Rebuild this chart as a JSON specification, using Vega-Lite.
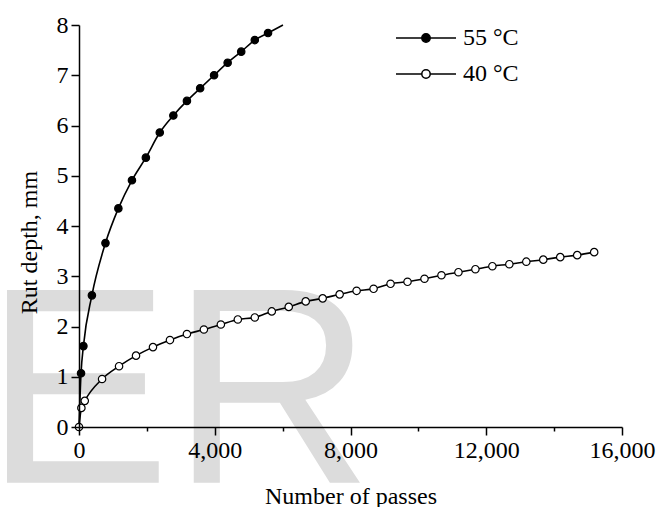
{
  "$schema": "https://vega.github.io/schema/vega-lite/v6.json",
  "width": 543,
  "height": 402,
  "autosize": {"type": "none"},
  "padding": {"left": 79, "top": 25, "right": 38, "bottom": 80},
  "background": "white",
  "config": {
    "view": {"stroke": null},
    "font": "Liberation Serif"
  },
  "datasets": {
    "rut": [
      {"temp": "55 °C", "passes": 0, "rut": 0},
      {"temp": "55 °C", "passes": 60, "rut": 1.07},
      {"temp": "55 °C", "passes": 130, "rut": 1.61},
      {"temp": "55 °C", "passes": 380, "rut": 2.62},
      {"temp": "55 °C", "passes": 780, "rut": 3.66},
      {"temp": "55 °C", "passes": 1160, "rut": 4.35},
      {"temp": "55 °C", "passes": 1560, "rut": 4.91},
      {"temp": "55 °C", "passes": 1970, "rut": 5.36},
      {"temp": "55 °C", "passes": 2380, "rut": 5.86},
      {"temp": "55 °C", "passes": 2780, "rut": 6.2},
      {"temp": "55 °C", "passes": 3180, "rut": 6.49},
      {"temp": "55 °C", "passes": 3570, "rut": 6.74},
      {"temp": "55 °C", "passes": 3980, "rut": 7.0},
      {"temp": "55 °C", "passes": 4380, "rut": 7.25},
      {"temp": "55 °C", "passes": 4780, "rut": 7.47},
      {"temp": "55 °C", "passes": 5180, "rut": 7.7},
      {"temp": "55 °C", "passes": 5570, "rut": 7.84},
      {"temp": "55 °C", "passes": 6010, "rut": 8.0},
      {"temp": "40 °C", "passes": 0, "rut": 0},
      {"temp": "40 °C", "passes": 70, "rut": 0.38},
      {"temp": "40 °C", "passes": 170, "rut": 0.52},
      {"temp": "40 °C", "passes": 680, "rut": 0.955},
      {"temp": "40 °C", "passes": 1180, "rut": 1.21},
      {"temp": "40 °C", "passes": 1680, "rut": 1.42},
      {"temp": "40 °C", "passes": 2180, "rut": 1.59},
      {"temp": "40 °C", "passes": 2680, "rut": 1.73},
      {"temp": "40 °C", "passes": 3180, "rut": 1.85},
      {"temp": "40 °C", "passes": 3680, "rut": 1.94},
      {"temp": "40 °C", "passes": 4180, "rut": 2.04},
      {"temp": "40 °C", "passes": 4680, "rut": 2.14},
      {"temp": "40 °C", "passes": 5180, "rut": 2.18},
      {"temp": "40 °C", "passes": 5680, "rut": 2.3},
      {"temp": "40 °C", "passes": 6180, "rut": 2.39},
      {"temp": "40 °C", "passes": 6680, "rut": 2.5},
      {"temp": "40 °C", "passes": 7180, "rut": 2.56},
      {"temp": "40 °C", "passes": 7680, "rut": 2.64},
      {"temp": "40 °C", "passes": 8180, "rut": 2.71},
      {"temp": "40 °C", "passes": 8680, "rut": 2.75},
      {"temp": "40 °C", "passes": 9180, "rut": 2.85},
      {"temp": "40 °C", "passes": 9680, "rut": 2.89},
      {"temp": "40 °C", "passes": 10180, "rut": 2.95},
      {"temp": "40 °C", "passes": 10680, "rut": 3.02},
      {"temp": "40 °C", "passes": 11180, "rut": 3.08},
      {"temp": "40 °C", "passes": 11680, "rut": 3.14},
      {"temp": "40 °C", "passes": 12180, "rut": 3.2},
      {"temp": "40 °C", "passes": 12680, "rut": 3.24},
      {"temp": "40 °C", "passes": 13180, "rut": 3.29},
      {"temp": "40 °C", "passes": 13680, "rut": 3.33},
      {"temp": "40 °C", "passes": 14180, "rut": 3.38},
      {"temp": "40 °C", "passes": 14680, "rut": 3.42},
      {"temp": "40 °C", "passes": 15180, "rut": 3.48}
    ],
    "watermark": [
      {"wm": "ER", "passes": -2799, "rut": -1.108}
    ]
  },
  "layer": [
    {
      "data": {"name": "watermark"},
      "mark": {
        "type": "text",
        "font": "Liberation Sans",
        "fontSize": 280,
        "align": "left",
        "baseline": "alphabetic",
        "fill": "#dcdcdc",
        "clip": false
      },
      "encoding": {
        "x": {"field": "passes", "type": "quantitative"},
        "y": {"field": "rut", "type": "quantitative"},
        "text": {"field": "wm", "type": "nominal"}
      }
    },
    {
      "data": {"name": "rut"},
      "mark": {"type": "line", "interpolate": "monotone", "color": "black", "strokeWidth": 1.6},
      "encoding": {
        "x": {"field": "passes", "type": "quantitative"},
        "y": {"field": "rut", "type": "quantitative"},
        "detail": {"field": "temp"}
      }
    },
    {
      "data": {"name": "rut"},
      "transform": [{"filter": "datum.temp == '40 °C' || (datum.passes > 0 && datum.passes < 5900)"}],
      "mark": {"type": "point", "shape": "circle", "size": 55, "stroke": "black", "strokeWidth": 1.2, "opacity": 1, "filled": true},
      "encoding": {
        "x": {
          "field": "passes",
          "type": "quantitative",
          "scale": {"domain": [0, 16000], "nice": false, "zero": false},
          "axis": {
            "title": "Number of passes",
            "values": [0, 2000, 4000, 6000, 8000, 10000, 12000, 14000, 16000],
            "labelExpr": "datum.value % 4000 === 0 ? format(datum.value, ',') : ''",
            "tickSize": {"condition": {"test": "datum.value % 4000 === 0", "value": 8}, "value": 4},
            "grid": false,
            "domainColor": "black",
            "domainWidth": 1.5,
            "tickColor": "black",
            "tickWidth": 1.5,
            "labelFont": "Liberation Serif",
            "labelFontSize": 24,
            "labelColor": "black",
            "labelPadding": 3,
            "labelFlush": false,
            "labelOverlap": false,
            "titleFont": "Liberation Serif",
            "titleFontSize": 24,
            "titleFontWeight": "normal",
            "titleColor": "black",
            "titleBaseline": "alphabetic",
            "titleY": 76,
            "zindex": 1
          }
        },
        "y": {
          "field": "rut",
          "type": "quantitative",
          "scale": {"domain": [0, 8], "nice": false},
          "axis": {
            "title": "Rut depth, mm",
            "values": [0, 0.5, 1, 1.5, 2, 2.5, 3, 3.5, 4, 4.5, 5, 5.5, 6, 6.5, 7, 7.5, 8],
            "labelExpr": "datum.value % 1 === 0 ? format(datum.value, 'd') : ''",
            "tickSize": {"condition": {"test": "datum.value % 1 === 0", "value": 8}, "value": 4},
            "grid": false,
            "domainColor": "black",
            "domainWidth": 1.5,
            "tickColor": "black",
            "tickWidth": 1.5,
            "labelFont": "Liberation Serif",
            "labelFontSize": 24,
            "labelColor": "black",
            "labelPadding": 3,
            "labelFlush": false,
            "labelOverlap": false,
            "titleFont": "Liberation Serif",
            "titleFontSize": 24,
            "titleFontWeight": "normal",
            "titleColor": "black",
            "titleBaseline": "alphabetic",
            "titleX": -43,
            "titleY": 217,
            "zindex": 1
          }
        },
        "fill": {
          "field": "temp",
          "type": "nominal",
          "scale": {"domain": ["55 °C", "40 °C"], "range": ["black", "white"]},
          "legend": {
            "title": null,
            "orient": "none",
            "legendX": 316,
            "legendY": -5,
            "padding": 0,
            "symbolType": "M-1,0H-0.14M0.14,0H1M-0.14,0A0.14,0.14,0,1,0,0.14,0A0.14,0.14,0,1,0,-0.14,0Z",
            "symbolSize": 3600,
            "symbolStrokeColor": "black",
            "symbolStrokeWidth": 1.5,
            "symbolOpacity": 1,
            "clipHeight": 36,
            "rowPadding": 0,
            "labelFont": "Liberation Serif",
            "labelFontSize": 24,
            "labelColor": "black",
            "labelOffset": 6
          }
        }
      }
    }
  ]
}
